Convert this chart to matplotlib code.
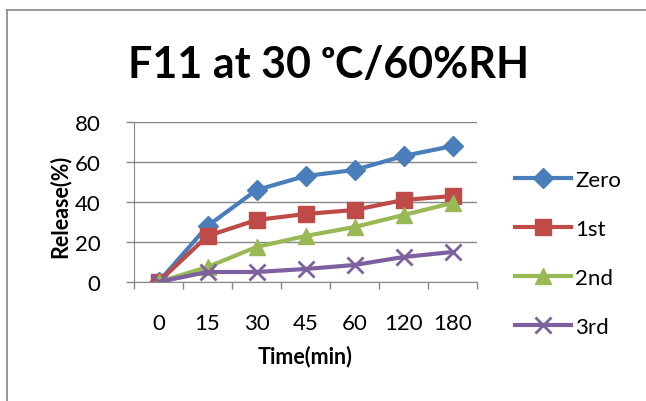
import matplotlib.pyplot as plt
from matplotlib.lines import Line2D
import numpy as np

times = ["0", "15", "30", "45", "60", "120", "180"]
zero = [0, 28, 46, 53, 56, 63, 68]
first = [0, 23, 31, 34, 36, 41, 43]
second = [0, 7.5, 17.5, 23, 27.5, 33.5, 39.5]
third = [0, 5, 5, 6.5, 8.5, 12.5, 15]

names = ["Zero", "1st", "2nd", "3rd"]
colors = ["#4A7EBB", "#BE4B48", "#98B954", "#7D60A0"]
markers = ["D", "s", "^", "x"]
msizes = [10, 12, 11, 11]

plt.rcParams['font.family'] = ['Lato', 'DejaVu Sans']

fig = plt.figure(figsize=(6.46, 4.02), dpi=100)
ax = fig.add_axes([134 / 646, 1 - 283 / 402, 343 / 646, 160 / 402])

x = np.arange(len(times))
for vals, name, c, m, ms in zip([zero, first, second, third], names, colors, markers, msizes):
    ax.plot(x, vals, color=c, lw=3, marker=m, ms=ms, mew=2 if m == "x" else 1,
            mec=c, mfc=c, label=name, solid_capstyle="round", solid_joinstyle="round")

ax.set_xlim(-0.5, 6.5)
ax.set_ylim(0, 80)
ax.set_yticks([0, 20, 40, 60, 80])
ax.set_xticks(x)
ax.set_xticklabels(times)
ax.set_xticks(np.arange(-0.5, 7, 1), minor=True)
ax.tick_params(axis="x", which="major", length=0, pad=22, labelsize=16)
ax.tick_params(axis="x", which="minor", length=5, color="#868686", width=1)
ax.tick_params(axis="y", length=6, color="#868686", width=1, labelsize=16, pad=18)
ax.grid(axis="y", color="#868686", lw=1)
ax.set_axisbelow(True)
for s in ["top", "right"]:
    ax.spines[s].set_visible(False)
for s in ["left", "bottom"]:
    ax.spines[s].set_color("#868686")

ax.set_xlabel("Time(min)", fontsize=15.5, fontweight="bold", va="center")
ax.xaxis.set_label_coords(0.5, (283 - 357) / 160)
ax.set_ylabel("Release(%)", fontsize=15.5, fontweight="bold", va="center")
ax.yaxis.set_label_coords((60 - 134) / 343, (283 - 206) / 160)

fig.text(329 / 646, 1 - 65 / 402, "F11 at 30 \u1d52C/60%RH", ha="center", va="center",
         fontsize=31, fontweight="bold")

handles = [Line2D([], [], color=c, lw=3, marker=m, ms=ms, mew=2 if m == "x" else 1, mec=c, mfc=c)
           for c, m, ms in zip(colors, markers, msizes)]
fig.legend(handles, names, loc="upper left", bbox_to_anchor=(495 / 646, 1 - 151 / 402),
           frameon=False, fontsize=16, handlelength=2.5, labelspacing=1.3, handletextpad=0.2)

# outer chart frame (left and top edges only)
fig.add_artist(Line2D([7 / 646, 7 / 646], [0, 1 - 11 / 402], color="#868686", lw=1.2))
fig.add_artist(Line2D([7 / 646, 1], [1 - 11 / 402, 1 - 11 / 402], color="#868686", lw=1.2))

fig.savefig("out.png", dpi=100)
